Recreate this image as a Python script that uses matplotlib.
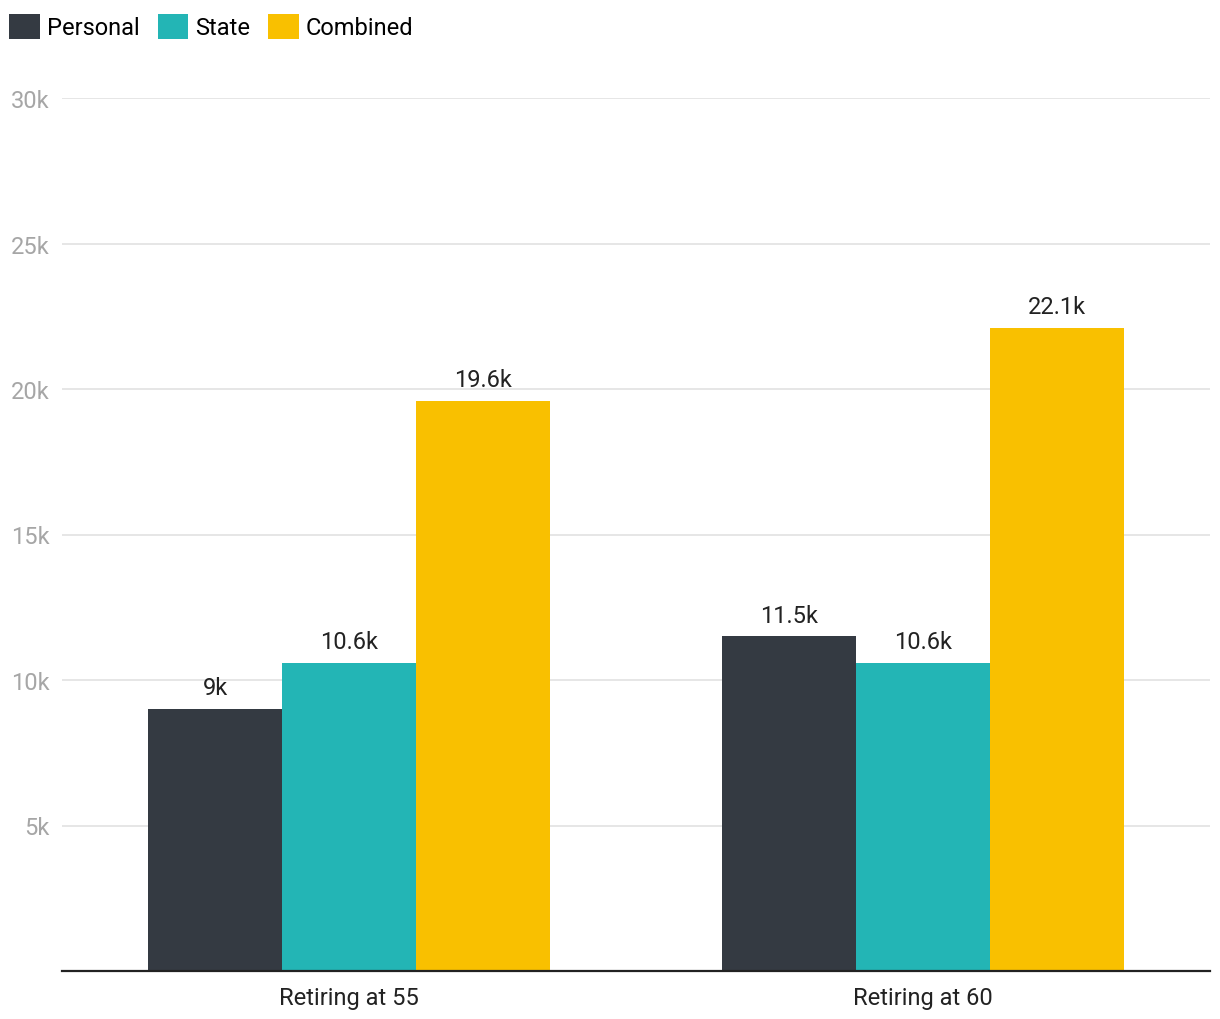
import numpy as np
import matplotlib.pyplot as plt

plt.rcParams['font.family'] = ['Roboto', 'DejaVu Sans']

# data
categories = ["Retiring at 55", "Retiring at 60"]
series = ["Personal", "State", "Combined"]
personal = [9000, 11500]
state = [10600, 10600]
combined = [19600, 22100]
yticks = [5000, 10000, 15000, 20000, 25000, 30000]
ytick_labels = ["5k", "10k", "15k", "20k", "25k", "30k"]

colors = ["#343a42", "#23b5b5", "#f9c000"]

def fmt(v):
    s = "%.1f" % (v / 1000)
    if s.endswith(".0"):
        s = s[:-2]
    return s + "k"

fig = plt.figure(figsize=(12.2, 10.2), dpi=100)
ax = fig.add_axes([62 / 1220, 48 / 1020, 1148 / 1220, 873 / 1020])

x = np.arange(len(categories))
w = 0.7 / 3
for i, (name, vals) in enumerate(zip(series, [personal, state, combined])):
    bars = ax.bar(x + (i - 1) * w, vals, w, color=colors[i], label=name, zorder=3)
    ax.bar_label(bars, labels=[fmt(v) for v in vals], padding=7,
                 fontsize=17, color="#222222")

ax.set_xlim(-0.5, 1.5)
ax.set_ylim(0, 30000)
ax.set_yticks(yticks)
ax.set_yticklabels(ytick_labels)
ax.set_xticks(x)
ax.set_xticklabels(categories)
ax.tick_params(axis="y", length=0, pad=9, labelsize=17, labelcolor="#a6a6a6")
ax.tick_params(axis="x", length=0, pad=11, labelsize=17, labelcolor="#222222")
ax.grid(axis="y", color="#e2e2e2", linewidth=1.2, zorder=0)
for s in ["top", "right", "left"]:
    ax.spines[s].set_visible(False)
ax.spines["bottom"].set_color("#222222")
ax.spines["bottom"].set_linewidth(1.6)
ax.spines["bottom"].set_zorder(4)

fig.legend(loc="upper left", bbox_to_anchor=(0.0, 0.995), ncol=3, frameon=False,
           fontsize=17, handlelength=1.3, handleheight=1.3, handletextpad=0.3,
           columnspacing=0.75, borderaxespad=0.1, borderpad=0.3)

fig.savefig("out.png", dpi=100)
